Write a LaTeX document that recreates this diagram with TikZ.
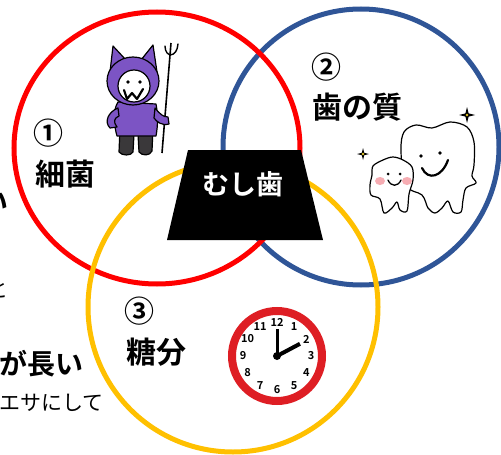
\documentclass[tikz,border=0pt]{standalone}
\usepackage{fontspec}
\setmainfont{Noto Sans CJK JP}[BoldFont={Noto Sans CJK JP Bold}]
\definecolor{ringred}{RGB}{255,0,0}
\definecolor{ringblue}{RGB}{47,85,151}
\definecolor{ringyellow}{RGB}{255,192,0}
\definecolor{devilpurple}{RGB}{124,84,196}
\definecolor{legsgray}{RGB}{58,56,58}
\definecolor{clockred}{RGB}{222,30,36}
\definecolor{cheekpink}{RGB}{246,172,178}
\definecolor{sparkyellow}{RGB}{230,200,40}

\begin{document}
\begin{tikzpicture}[
    x=1pt, y=-1pt,
    ring/.style={line width=5pt},
    labeltext/.style={font={\fontsize{30pt}{30pt}\bfseries\selectfont}, inner sep=0pt},
    sidebold/.style={font={\fontsize{28pt}{28pt}\bfseries\selectfont}, inner sep=0pt, anchor=east},
    sidethin/.style={font={\fontsize{21pt}{21pt}\selectfont}, inner sep=0pt, anchor=east},
    inkline/.style={draw=black, line width=1.2pt, line join=round},
    hourmark/.style={font={\fontsize{11pt}{11pt}\bfseries\selectfont}, inner sep=0pt}
]
\useasboundingbox (0,0) rectangle (501,455);
\clip (0,0) rectangle (501,455);

% Rings
\draw[ring, ringblue] (361,147) circle [radius=138pt];
\draw[ring, ringred] (157,148) ellipse [x radius=143pt, y radius=136pt];
\draw[ring, ringyellow] (233,307) circle [radius=145pt];

% Centre block
\fill (188,150) -- (301,150) -- (323,240) -- (167,240) -- cycle;
\node[labeltext, white, font={\fontsize{27pt}{27pt}\bfseries\selectfont}] (mushiba) at (243,184) {むし歯};

% Labels
\node[labeltext] (num1) at (49,133) {①};
\node[labeltext] (saikin) at (65,174) {細菌};
\node[labeltext] (num2) at (326,67) {②};
\node[labeltext] (hanoshitsu) at (357,107) {歯の質};
\node[labeltext] (num3) at (139,311) {③};
\node[labeltext] (toubun) at (156,352) {糖分};

% Text running in from the left
\node[sidebold] (topcut) at (9,203) {い};
\node[sidethin] (tocut) at (9,290) {と};
\node[sidebold] (nagai) at (84,364) {が長い};
\node[sidethin] (esa) at (104,403) {エサにして};

% Devil
\draw[line width=1.6pt] (171,43) -- (162,153);
\draw[line width=1.4pt, line cap=round] (165,46) .. controls (165,58) and (177,58) .. (178,44);
\filldraw[fill=legsgray, inkline] (120,128) -- (119,152) .. controls (122,156) and (131,156) .. (133,152)
    -- (134,134) -- (138,134) -- (139,152) .. controls (142,156) and (150,156) .. (152,151) -- (153,128) -- cycle;
\filldraw[fill=devilpurple, inkline] (118,102) .. controls (112,112) and (114,125) .. (117,136)
    -- (156,136) .. controls (158,125) and (158,115) .. (156,104) -- cycle;
\filldraw[fill=devilpurple, inkline] (118,108) .. controls (108,112) and (104,122) .. (110,128)
    -- (117,127) .. controls (113,122) and (114,118) .. (119,116) -- cycle;
\filldraw[fill=devilpurple, inkline] (155,108) .. controls (160,114) and (163,117) .. (168,117)
    -- (169,124) .. controls (162,126) and (157,122) .. (154,118) -- cycle;
\filldraw[fill=devilpurple, inkline] (110,72) -- (113,46) -- (126,60) -- cycle;
\filldraw[fill=devilpurple, inkline] (141,60) -- (153,45) -- (157,72) -- cycle;
\filldraw[fill=devilpurple, inkline] (133,81) ellipse [x radius=26pt, y radius=24pt];
\filldraw[fill=white, inkline] (134,86) circle [radius=16pt];
\fill (128,82) circle [radius=1.8pt] (140,82) circle [radius=1.8pt];
\draw[line width=2.2pt, line join=round, line cap=round] (124,90) -- (127,99) -- (132,93) -- (137,99) -- (143,89);

% Teeth
\foreach \sx/\sy/\sr in {467/115/8, 363/154/6} {
  \fill ({\sx},{\sy-\sr}) -- ({\sx+0.2*\sr},{\sy-0.2*\sr}) -- ({\sx+\sr},{\sy}) -- ({\sx+0.2*\sr},{\sy+0.2*\sr})
    -- ({\sx},{\sy+\sr}) -- ({\sx-0.2*\sr},{\sy+0.2*\sr}) -- ({\sx-\sr},{\sy}) -- ({\sx-0.2*\sr},{\sy-0.2*\sr}) -- cycle;
  \fill[sparkyellow] (\sx,\sy) circle [radius=1.3pt];
}
\filldraw[fill=white, inkline] plot[smooth cycle, tension=0.55] coordinates {
  (401,150) (404,132) (416,125) (432,128) (450,122) (467,127) (474,142) (474,165) (472,176) (476,183)
  (466,188) (463,200) (461,212) (453,212) (448,201) (442,208) (435,213) (428,208) (422,195) (405,185)};
\fill (421,156) circle [radius=1.8pt] (440,153) circle [radius=1.8pt];
\draw[line width=2.2pt, line cap=round] (422,168) .. controls (428,181) and (442,177) .. (448,160);
\filldraw[fill=white, inkline] plot[smooth cycle, tension=0.55] coordinates {
  (373,166) (383,160) (393,157) (403,160) (412,167) (413,180) (409,194) (407,211) (400,210) (397,202)
  (392,208) (384,213) (380,199) (371,195) (370,185) (372,175)};
\fill[cheekpink] (380,181) ellipse [x radius=5pt, y radius=4pt] (407,181) ellipse [x radius=5pt, y radius=4pt];
\fill (388,174) circle [radius=1.5pt] (400,174) circle [radius=1.5pt];
\draw[line width=1.3pt, line cap=round] (388,180) .. controls (391,187) and (398,187) .. (401,180);

% Clock
\coordinate (clockc) at (277,356);
\fill[white] (clockc) circle [radius=45pt];
\draw[clockred, line width=8pt] (clockc) circle [radius=45pt];
\foreach \h in {1,...,12}
  \node[hourmark] (hour\h) at ({277+34*sin(30*\h)},{356-34*cos(30*\h)}) {\h};
\draw[line width=3pt] (clockc) -- ++(0,-27);
\draw[line width=4pt] (clockc) -- ++({26*sin(62)},{-26*cos(62)});
\fill (clockc) circle [radius=4pt];

\end{tikzpicture}
\end{document}
